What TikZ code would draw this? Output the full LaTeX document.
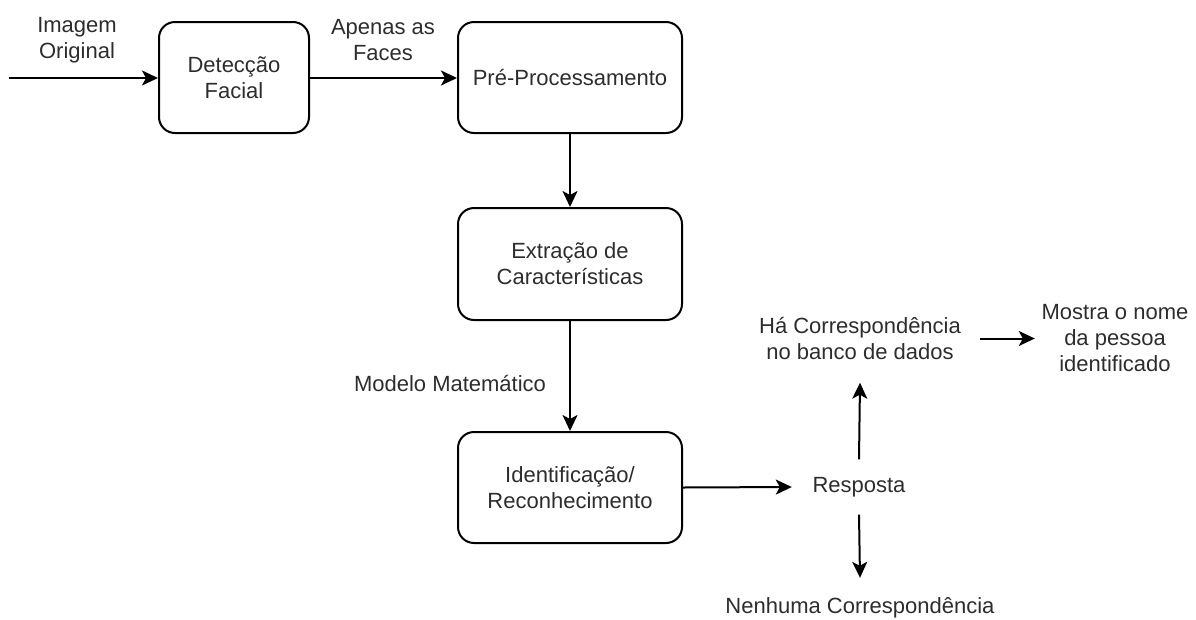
\documentclass[tikz,border=0pt]{standalone}
\usepackage{fontspec}
\setmainfont{Liberation Sans}
\usetikzlibrary{arrows.meta}
\definecolor{txt}{RGB}{45,45,45}
\begin{document}
\begin{tikzpicture}[x=1pt,y=-1pt,
  every node/.style={font=\fontsize{22}{26}\selectfont, text=txt, align=center},
  box/.style={draw=black, line width=2pt, rounded corners=16pt, inner sep=0pt},
  lbl/.style={inner sep=0pt},
  arr/.style={line width=2pt, -{Stealth[length=16pt,width=15pt,inset=4pt]}}
]
\useasboundingbox (0,0) rectangle (1196,619);
% boxes
\node[box, minimum width=150pt, minimum height=111pt] (det) at (234,77.5) {Detecção\\Facial};
\node[box, minimum width=224pt, minimum height=111pt] (pre) at (570,77.5) {Pré-Processamento};
\node[box, minimum width=224pt, minimum height=112pt] (ext) at (570,264) {Extração de\\Características};
\node[box, minimum width=224pt, minimum height=111pt] (idr) at (570,487.5) {Identificação/\\Reconhecimento};
% text nodes
\node[lbl, minimum width=134pt, minimum height=55pt] (resp) at (859,487) {Resposta};
\node[lbl, minimum width=240pt, minimum height=88pt] (ha) at (860,338.5) {Há Correspondência\\no banco de dados};
\node[lbl, minimum width=160pt, minimum height=60pt] (nen) at (860,608) {Nenhuma Correspondência};
\node[lbl, minimum width=160pt] (mos) at (1115,338.5) {Mostra o nome\\da pessoa\\identificado};
\node[lbl] (limg) at (77,40) {Imagem\\Original};
\node[lbl] (lape) at (383,40) {Apenas as\\Faces};
\node[lbl] (lmod) at (450,383) {Modelo Matemático};
\coordinate (in) at (9,78);
% connectors
\draw[arr] (in) -- (det.west |- in);
\draw[arr] (det.east |- in) -- (pre.west |- in);
\draw[arr] (pre.south) -- (ext.north);
\draw[arr] (ext.south) -- (idr.north);
\draw[arr] (idr.east) -- (resp.west);
\draw[arr] (resp.north) -- (ha.south);
\draw[arr] (resp.south) -- (nen.north);
\draw[arr] (ha.east) -- (mos.west);
\end{tikzpicture}
\end{document}
